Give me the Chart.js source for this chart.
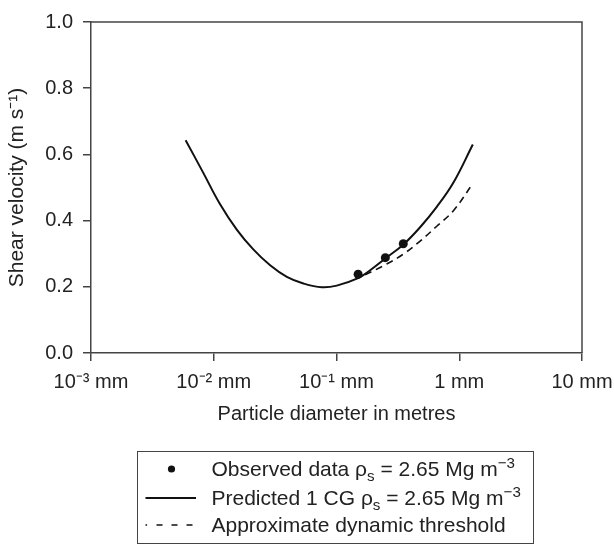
<!DOCTYPE html>
<html>
<head>
<meta charset="utf-8">
<script src="https://cdn.jsdelivr.net/npm/chart.js@4.4.1/dist/chart.umd.min.js"></script>
<style>
  html, body { margin:0; padding:0; background:#fff; }
  #wrap { position:relative; width:614px; height:545px; font-family:"Liberation Sans", Arial, sans-serif; color:#222; }
  canvas { position:absolute; left:0; top:0; }
  #legend { position:absolute; left:137px; top:451px; width:397px; height:93px; border:1.5px solid #444; box-sizing:border-box; font-size:21px; }
  .row { position:absolute; left:0; height:26px; width:100%; }
  .row svg { position:absolute; left:6px; top:0; }
  .row span.t { position:absolute; left:73.5px; top:0px; line-height:26px; white-space:nowrap; }
  sub, sup { font-size:72%; line-height:0; }
  sub { vertical-align:-0.3em; }
  sup { vertical-align:0.5em; }
</style>
</head>
<body>
<div id="wrap">
  <canvas id="c" width="614" height="545"></canvas>
  <div id="legend">
    <div class="row" style="top:4px"><svg width="60" height="26"><circle cx="27.5" cy="13" r="3.6" fill="#111"/></svg><span class="t">Observed data ρ<sub>s</sub> = 2.65 Mg m<sup>−3</sup></span></div>
    <div class="row" style="top:33px"><svg width="60" height="26"><line x1="1.5" y1="13" x2="52" y2="13" stroke="#111" stroke-width="1.8"/></svg><span class="t">Predicted 1 CG ρ<sub>s</sub> = 2.65 Mg m<sup>−3</sup></span></div>
    <div class="row" style="top:60px"><svg width="60" height="26"><line x1="1.5" y1="13" x2="52" y2="13" stroke="#111" stroke-width="1.4" stroke-dasharray="1.6,9.4,6,9,6,9,6,9"/></svg><span class="t">Approximate dynamic threshold</span></div>
  </div>
</div>
<script>
const xTickValues = [0.001, 0.01, 0.1, 1, 10];
const xTickLabels = ['10⁻³ mm', '10⁻² mm', '10⁻¹ mm', '1 mm', '10 mm'];

const observedDiam = [0.15, 0.25, 0.35];
const observedVel  = [0.238, 0.288, 0.33];

const predictedDiam = [0.0059, 0.0082, 0.0112, 0.0154, 0.021, 0.0288, 0.0394, 0.0537, 0.0759, 0.1005, 0.15, 0.188, 0.257, 0.351, 0.48, 0.656, 0.897, 1.29];
const predictedVel  = [0.643, 0.545, 0.451, 0.373, 0.313, 0.265, 0.230, 0.210, 0.1985, 0.2035, 0.226, 0.25, 0.289, 0.328, 0.38, 0.4415, 0.515, 0.630];

const dynamicDiam = [0.171, 0.257, 0.351, 0.48, 0.656, 0.897, 1.29];
const dynamicVel  = [0.236, 0.269, 0.299, 0.338, 0.383, 0.43, 0.512];

const pts = (xs, ys) => xs.map((x, i) => ({x, y: ys[i]}));

const AXIS = '#444';
const frame = {
  id: 'frame',
  afterDraw(chart) {
    const {ctx, chartArea: a} = chart;
    ctx.save();
    ctx.strokeStyle = AXIS;
    ctx.lineWidth = 1.5;
    ctx.beginPath();
    ctx.moveTo(a.left, a.top); ctx.lineTo(a.right, a.top);
    ctx.lineTo(a.right, a.bottom);
    ctx.stroke();
    ctx.restore();
  }
};

const TICKFONT = {family: '"Liberation Sans", Arial, sans-serif', size: 20};
const TITLEFONT = {family: '"Liberation Sans", Arial, sans-serif', size: 20};

new Chart(document.getElementById('c'), {
  type: 'scatter',
  data: {
    datasets: [
      { label: 'Predicted', data: pts(predictedDiam, predictedVel), showLine: true, borderColor: '#111', borderWidth: 2, pointRadius: 0, tension: 0.4, fill: false },
      { label: 'Dynamic', data: pts(dynamicDiam, dynamicVel), showLine: true, borderColor: '#111', borderWidth: 1.6, borderDash: [7, 5], pointRadius: 0, tension: 0.4, fill: false },
      { label: 'Observed', data: pts(observedDiam, observedVel), showLine: false, pointRadius: 4.5, pointBackgroundColor: '#111', pointBorderWidth: 0 }
    ]
  },
  options: {
    responsive: false,
    animation: false,
    events: [],
    layout: { padding: { left: 0, top: 14, right: 32, bottom: 115 } },
    plugins: { legend: { display: false }, tooltip: { enabled: false } },
    scales: {
      x: {
        type: 'logarithmic', min: 0.001, max: 10,
        afterBuildTicks: s => { s.ticks = xTickValues.map(v => ({value: v})); },
        afterFit: s => { s.height = 77; s.paddingLeft = 0; s.paddingRight = 0; },
        ticks: { color: '#222', font: TICKFONT, padding: 9, maxRotation: 0, autoSkip: false,
          callback: (v) => { const i = xTickValues.findIndex(t => Math.abs(Math.log10(t) - Math.log10(v)) < 1e-6); return i >= 0 ? xTickLabels[i] : ''; } },
        grid: { drawOnChartArea: false, drawTicks: true, tickLength: 8, color: AXIS, lineWidth: 1.5 },
        border: { display: true, color: AXIS, width: 1.5 },
        title: { display: true, text: 'Particle diameter in metres', color: '#222', font: TITLEFONT, padding: { top: 0, bottom: 4 } }
      },
      y: {
        min: 0, max: 1,
        afterFit: s => { s.width = 91; },
        ticks: { stepSize: 0.2, color: '#222', font: TICKFONT, padding: 10, callback: v => v.toFixed(1) },
        grid: { drawOnChartArea: false, drawTicks: true, tickLength: 8, color: AXIS, lineWidth: 1.5 },
        border: { display: true, color: AXIS, width: 1.5 },
        title: { display: true, text: 'Shear velocity (m s⁻¹)', color: '#222', font: {family: TITLEFONT.family, size: 21}, padding: { top: 5, bottom: 0 } }
      }
    }
  },
  plugins: [frame]
});
</script>
</body>
</html>
